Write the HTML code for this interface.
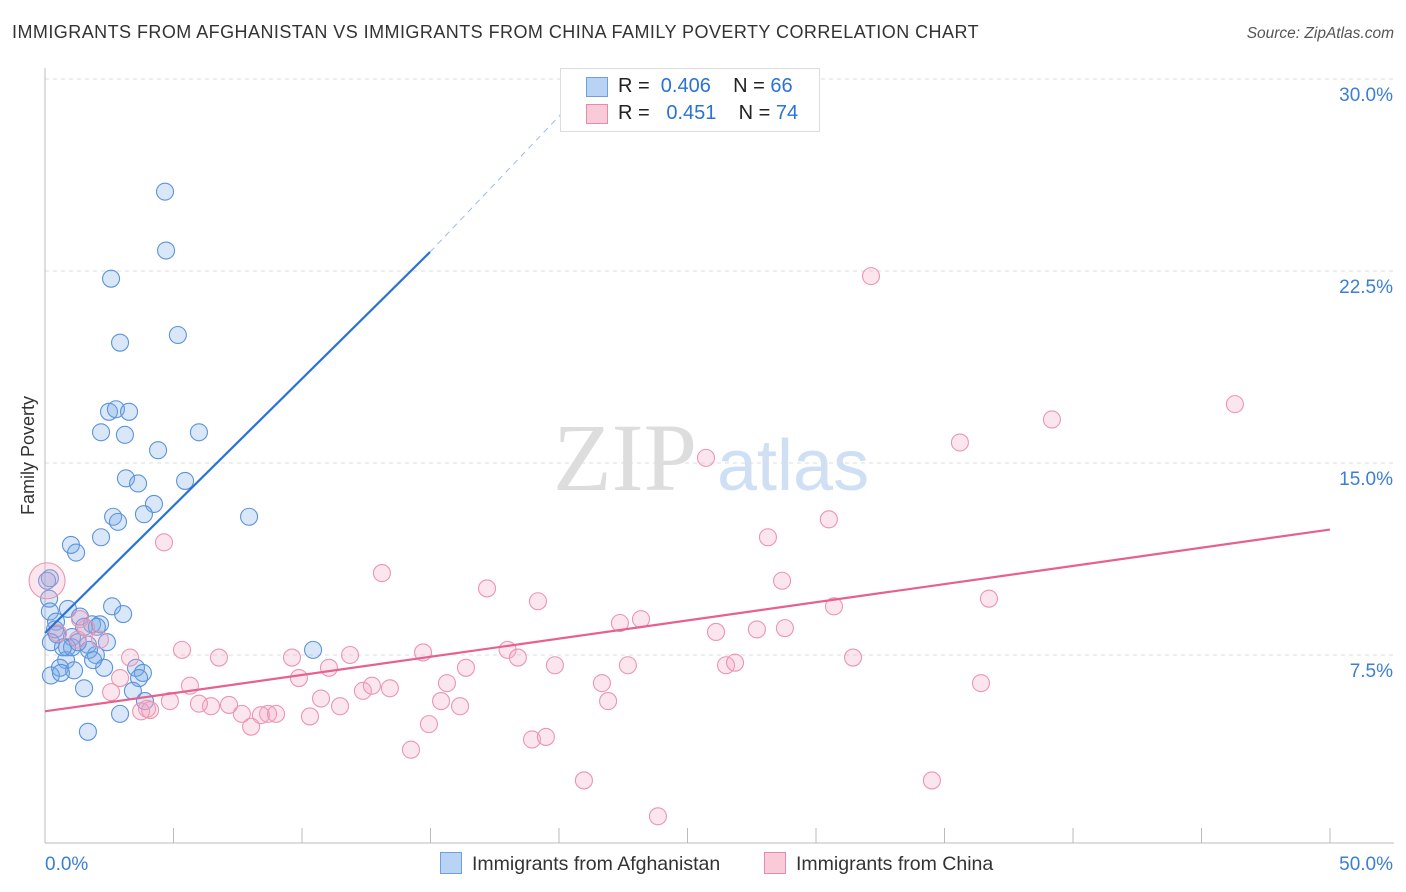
<!DOCTYPE html>
<html><head><meta charset="utf-8"><style>
body{margin:0;background:#fff;font-family:"Liberation Sans",sans-serif;}
#wrap{position:relative;width:1406px;height:892px;overflow:hidden;}
.t{position:absolute;white-space:nowrap;}
</style></head><body>
<div id="wrap">
<div class="t" style="left:12px;top:22px;font-size:18px;letter-spacing:0.45px;color:#333;">IMMIGRANTS FROM AFGHANISTAN VS IMMIGRANTS FROM CHINA FAMILY POVERTY CORRELATION CHART</div>
<div class="t" style="right:12px;top:25px;font-size:15.5px;color:#555;font-style:italic;">Source: ZipAtlas.com</div>
<div class="t" style="left:-31px;top:445px;font-size:18px;color:#333;transform:rotate(-90deg);">Family Poverty</div>
<svg id="svg" width="1406" height="892" style="position:absolute;left:0;top:0"></svg>
</div>
<script>
const blueX=[4.67,4.71,2.57,5.17,2.92,2.49,2.76,3.27,2.18,3.11,5.99,4.40,3.15,3.62,5.45,4.24,2.65,3.85,2.84,7.94,1.01,1.21,2.18,0.19,0.16,0.19,0.89,1.36,2.61,3.04,0.43,1.83,1.52,2.14,0.47,2.41,1.05,0.86,1.67,1.98,0.82,0.58,1.13,2.30,3.54,3.81,3.66,0.23,0.62,1.71,1.52,3.42,3.89,2.92,1.67,10.43,1.05,1.87,1.28,0.70,0.39,2.02,0.23,0.08];
const blueY=[25.6,23.3,22.2,20.0,19.7,17.0,17.1,17.0,16.2,16.1,16.2,15.5,14.4,14.2,14.3,13.4,12.9,13.0,12.7,12.9,11.8,11.5,12.1,10.5,9.7,9.2,9.3,9.0,9.4,9.1,8.8,8.7,8.6,8.7,8.3,8.0,8.2,7.8,7.9,7.5,7.3,7.0,6.9,7.0,7.0,6.8,6.6,6.7,6.8,7.7,6.2,6.1,5.7,5.2,4.5,7.7,7.8,7.3,8.0,7.8,8.5,8.6,8.0,10.4];
const pinkX=[4.63,13.11,17.2,19.18,25.72,32.14,46.3,39.18,35.6,30.5,28.13,28.68,30.7,36.73,23.19,22.37,26.11,27.7,28.79,31.44,26.5,26.85,22.68,19.84,16.38,18.0,18.4,14.71,11.87,9.61,11.05,9.88,6.77,5.33,3.31,2.92,5.64,2.57,4.86,3.97,3.74,4.09,7.16,6.46,7.66,5.99,8.68,8.4,8.99,10.31,8.02,10.74,11.48,12.37,12.72,13.42,15.41,15.64,16.15,14.94,14.24,18.95,19.49,21.67,21.91,20.97,23.85,34.51,36.42,2.14,1.6,1.28,0.51,1.36];
const pinkY=[11.9,10.7,10.1,9.6,15.2,22.3,17.3,16.7,15.8,12.8,12.1,10.4,9.4,9.7,8.9,8.75,8.4,8.5,8.55,7.4,7.1,7.2,7.1,7.1,7.0,7.7,7.4,7.6,7.5,7.4,7.0,6.6,7.4,7.7,7.4,6.6,6.3,6.05,5.7,5.4,5.3,5.35,5.55,5.5,5.2,5.6,5.2,5.15,5.2,5.1,4.7,5.8,5.5,6.1,6.3,6.2,5.7,6.4,5.5,4.8,3.8,4.2,4.3,6.4,5.7,2.6,1.2,2.6,6.4,8.1,8.55,8.1,8.35,8.9];
const blueTrendX=[0,14.98,21.0];
const blueTrendY=[8.36,23.24,29.6];
const pinkTrendX=[0,50];
const pinkTrendY=[5.3,12.4];
const yTicks=[7.5,15,22.5,30];
const yTickLabels=["7.5%","15.0%","22.5%","30.0%"];
const xTicks=[0,5,10,15,20,25,30,35,40,45,50];

const sx=v=>45+v*25.7;
const sy=v=>847-v*25.6;
const svg=document.getElementById('svg');
const NS='http://www.w3.org/2000/svg';
function mk(tag,attrs){const e=document.createElementNS(NS,tag);for(const k in attrs)e.setAttribute(k,attrs[k]);svg.appendChild(e);return e;}

let w=mk('text',{x:553,y:490,'font-size':96,'font-family':'Liberation Serif, serif',fill:'#ddd'});w.textContent='ZIP';


let w2=mk('text',{x:717,y:490,'font-size':72,'font-family':'Liberation Sans, sans-serif',fill:'#cfe0f5'});w2.textContent='atlas';



yTicks.forEach((v,i)=>{
 const g=mk('line',{x1:45,x2:1394,y1:sy(v),y2:sy(v),stroke:'#ddd','stroke-dasharray':'4,4'});
 
 
 const t=mk('text',{x:1393,y:sy(v)+22,'text-anchor':'end','font-size':19,fill:'#3a7fd5'});t.textContent=yTickLabels[i];
 
 
});
let ax=mk('line',{x1:45,x2:45,y1:68,y2:843,stroke:'#bbb'});


let bx=mk('line',{x1:45,x2:1394,y1:843,y2:843,stroke:'#bbb'});


xTicks.forEach(v=>{
 const l=mk('line',{x1:sx(v),x2:sx(v),y1:828,y2:843,stroke:'#bbb'});
 
 
});
let xl=mk('text',{x:45,y:870,'font-size':19,fill:'#3a7fd5'});xl.textContent='0.0%';


let xr=mk('text',{x:1393,y:870,'text-anchor':'end','font-size':19,fill:'#3a7fd5'});xr.textContent='50.0%';



blueX.forEach((v,i)=>{
 const c=mk('circle',{cx:sx(v),cy:sy(blueY[i]),r:8.5,fill:'rgba(120,170,230,0.28)',stroke:'#5a94dc','stroke-width':1.1});
 
 
});
pinkX.forEach((v,i)=>{
 const c=mk('circle',{cx:sx(v),cy:sy(pinkY[i]),r:8.5,fill:'rgba(245,165,195,0.28)',stroke:'#eb95b2','stroke-width':1.1});
 
 
});
let big=mk('circle',{cx:sx(0.08),cy:sy(10.4),r:18,fill:'rgba(245,165,195,0.28)',stroke:'#eb95b2','stroke-width':1.1});



let bt=mk('line',{x1:sx(blueTrendX[0]),y1:sy(blueTrendY[0]),x2:sx(blueTrendX[1]),y2:sy(blueTrendY[1]),stroke:'#2a72d6','stroke-width':2.2});


let bd=mk('line',{x1:sx(blueTrendX[1]),y1:sy(blueTrendY[1]),x2:sx(blueTrendX[2]),y2:sy(blueTrendY[2]),stroke:'#9bbbe8','stroke-width':1,'stroke-dasharray':'6,5'});


let pt=mk('line',{x1:sx(pinkTrendX[0]),y1:sy(pinkTrendY[0]),x2:sx(pinkTrendX[1]),y2:sy(pinkTrendY[1]),stroke:'#e8608e','stroke-width':2.2});


</script>
<div style="position:absolute;left:560px;top:68px;width:258px;height:62px;border:1px solid #ddd;background:#fff;font-size:20px;">
 <div style="position:absolute;left:25px;top:8px;width:20px;height:18px;background:#b8d3f3;border:1px solid #6fa0dd;"></div>
 <div class="t" style="left:57px;top:6px;color:#222;">R = <span style="color:#2a72d6">&nbsp;0.406</span>&nbsp;&nbsp;&nbsp; N = <span style="color:#2a72d6">66</span></div>
 <div style="position:absolute;left:25px;top:35px;width:20px;height:18px;background:#f9cad8;border:1px solid #e88aab;"></div>
 <div class="t" style="left:57px;top:33px;color:#222;">R = <span style="color:#2a72d6">&nbsp;&nbsp;0.451</span>&nbsp;&nbsp;&nbsp; N = <span style="color:#2a72d6">74</span></div>
</div>
<div style="position:absolute;left:440px;top:852px;font-size:19.5px;color:#333;">
 <span style="position:absolute;left:0;top:0;white-space:nowrap;"><span style="display:inline-block;width:20px;height:20px;background:#b8d3f3;border:1px solid #6fa0dd;vertical-align:-4px;margin-right:10px;"></span>Immigrants from Afghanistan</span>
 <span style="position:absolute;left:324px;top:0;white-space:nowrap;"><span style="display:inline-block;width:20px;height:20px;background:#f9cad8;border:1px solid #e88aab;vertical-align:-4px;margin-right:10px;"></span>Immigrants from China</span>
</div>
</body></html>
